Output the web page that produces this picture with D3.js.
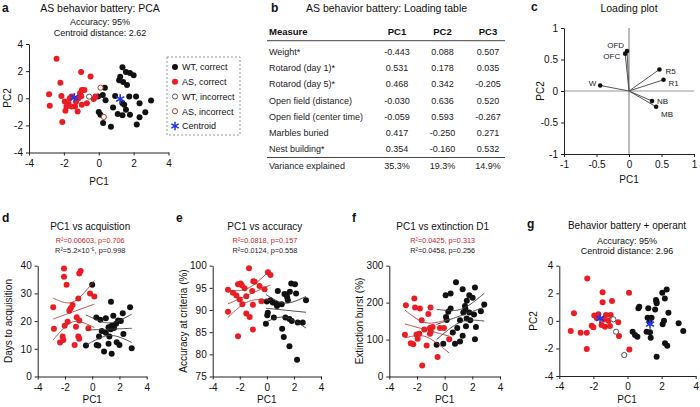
<!DOCTYPE html>
<html><head><meta charset="utf-8">
<script src="https://cdn.jsdelivr.net/npm/d3@7"></script>
<style>
body{margin:0;background:#fff}
svg{font-family:"Liberation Sans",Arial,Helvetica,sans-serif}
</style></head><body>
<svg id="chart" width="700" height="407"></svg>
<script>
// ---------- DATA ----------
// Panel a: PCA scores (PC1, PC2)
const aWTcorrect = [[1.36,2.28],[1.56,1.94],[1.79,1.87],[2.0,1.7],[1.23,1.58],[1.17,1.33],[1.4,1.2],[1.62,0.97],[0.35,0.78],[-0.04,0.12],[0.23,0.24],[0.39,-0.15],[0.94,0.17],[1.75,0.12],[2.14,0.12],[2.34,-0.36],[3.0,-0.17],[1.36,-0.36],[1.46,-0.48],[0.82,-0.68],[1.56,-0.85],[1.09,-1.16],[1.36,-1.26],[0,-1.02],[0.1,-1.21],[0.25,-1.82],[0.70,-2.11],[2.67,-1.04],[2.34,-1.41],[2.18,-1.94],[1.79,-1.21]];
const aAScorrect = [[-2.42,2.91],[-1.01,1.94],[-0.47,1.6],[-2.20,1.14],[-2.85,0.29],[-2.81,-0.56],[-2.14,0.17],[-1.95,-0.24],[-1.85,-0.6],[-1.91,-0.92],[-2.09,-1.75],[-1.66,0],[-1.56,0.12],[-1.07,0.36],[-0.97,0.6],[-0.82,0.6],[-1.17,0],[-1.36,-0.6],[-1.21,-0.97],[-1.56,-0.6],[-1.75,-0.36],[-0.97,-0.48],[-0.19,0.12],[-0.29,-0.05],[-0.68,-0.36],[-1.3,-0.25],[-1.0,0.15]];
const aWTincorrect = [[-0.55,0.12]];
const aASincorrect = [[0.1,0.78],[0.29,-1.38]];
const aCentroids = [[-1.4,0.05],[1.23,-0.05]];
const aSubtitle = ["Accuracy: 95%","Centroid distance: 2.62"];
const legendLabels = ["WT, correct","AS, correct","WT, incorrect","AS, incorrect","Centroid"];

// Panel b / c: loading table
const measures = ["Weight*","Rotarod (day 1)*","Rotarod (day 5)*","Open field (distance)","Open field (center time)","Marbles buried","Nest building*"];
const pc1 = [-0.443,0.531,0.468,-0.030,-0.059,0.417,0.354];
const pc2 = [0.088,0.178,0.342,0.636,0.593,-0.250,-0.160];
const pc3 = [0.507,0.035,-0.205,0.520,-0.267,0.271,0.532];
const varExplained = ["35.3%","19.3%","14.9%"];
const loadingLabels = ["W","R1","R5","OFD","OFC","MB","NB"];

// Panel d: PC1 vs days to acquisition
const dAS = [[-2.07,39.0],[-0.85,38.1],[-0.95,37.2],[-2.07,36.0],[-1.88,33.1],[-2.86,25.0],[-1.02,28.2],[-0.16,30.0],[0.16,28.9],[-1.44,25.8],[-1.58,24.6],[-1.68,23.7],[-1.80,19.8],[-1.14,21.4],[-0.95,20.2],[-2.02,18.3],[-2.81,17.2],[-1.19,18.0],[-0.28,17.4],[-2.17,14.4],[-2.12,13.2],[-2.36,12.3],[-1.02,14.4],[-0.95,13.6],[-1.29,11.4]];
const dWT = [[0,33.1],[1.38,27.0],[0.30,21.3],[0.6,20.5],[1.55,21.9],[2.78,25.0],[2.24,22.8],[1.9,20.2],[1.75,19.0],[1.43,18.3],[1.2,17.8],[1.6,17.5],[1.36,17.1],[0.70,16.4],[1.0,15.8],[0.5,14.4],[1.26,14.4],[1.8,12.4],[2.0,11.4],[2.29,15.3],[-0.46,11.2],[0.33,11.4],[0.45,11.2],[1.2,11.8],[0.87,9.0],[1.43,8.2],[2.90,10.2],[2.1,20.0],[1.0,21.0]];
const dStats = ["R\u00b2=0.00603, p=0.706","R\u00b2=5.2\u00d710\u207b\u2075, p=0.998"];

// Panel e: PC1 vs accuracy at criteria
const eAS = [[-1.32,99.4],[-2.87,94.6],[-2.50,93.9],[-2.13,95.8],[-1.94,96.0],[-1.85,95.6],[-1.64,94.9],[-2.25,93.3],[-2.0,92.4],[-1.81,91.3],[-1.52,93.1],[-1.08,94.3],[-1.0,96.5],[-0.9,96.4],[-0.54,95.4],[-0.17,94.7],[0.08,98.5],[0.27,97.9],[-1.03,91.2],[-2.87,89.6],[-1.52,89.2],[-1.27,88.4],[-1.03,85.6],[-2.13,84.1],[-0.4,92.0]];
const eWT = [[0.81,94.3],[1.3,93.6],[1.45,93.5],[1.5,92.9],[1.7,94.1],[1.80,96.0],[2.08,95.8],[2.16,93.7],[2.89,92.2],[1.55,92.2],[0.27,92.2],[0.44,91.7],[0.0,91.9],[0.69,91.4],[1.1,91.3],[0.75,90.9],[0.07,89.4],[0.03,88.8],[0.52,88.3],[1.37,88.3],[1.67,88.0],[1.84,87.5],[2.28,87.2],[2.65,87.2],[-0.07,86.9],[1.13,85.8],[1.25,83.9],[1.67,81.8],[2.23,78.8]];
const eStats = ["R\u00b2=0.0818, p=0.157","R\u00b2=0.0124, p=0.558"];

// Panel f: PC1 vs extinction burst
const fAS = [[-2.19,211],[-2.80,193],[-2.14,187],[-1.79,184],[-1.02,187],[-1.18,169],[-1.66,152],[-1.47,127],[-1.06,131],[-0.87,134],[-0.34,131],[-2.87,113],[-2.03,114],[-1.83,116],[-1.95,102],[-2.27,87],[-2.45,90],[-1.30,84],[-1.06,116],[-1.0,122],[-0.05,131],[0.33,101],[-0.51,53],[-1.62,30]];
const fWT = [[0.82,255],[0.07,220],[0.43,225],[1.30,236],[2.19,241],[1.78,220],[2.02,213],[1.6,205],[1.47,191],[1.5,183],[0.43,184],[0.26,175],[0.10,161],[0.15,153],[1.11,152],[1.35,173],[1.78,173],[2.12,168],[2.62,177],[2.86,195],[1.59,157],[1.85,152],[2.26,134],[1.54,136],[0.91,131],[0.59,119],[1.30,110],[2.19,101],[1.11,95],[0.75,89],[-0.58,86],[-0.10,89]];
const fStats = ["R\u00b2=0.0425, p=0.313","R\u00b2=0.0458, p=0.256"];

// Panel g: behavior battery + operant PCA
const gWTcorrect = [[2.30,2.28],[2.04,2.04],[2.19,1.63],[1.67,1.51],[1.71,1.27],[0.69,1.03],[0.64,0.91],[1.22,0.91],[1.62,0.83],[1.18,0.23],[1.41,0.23],[2.40,0.59],[2.14,0.01],[2.06,-0.25],[1.3,-0.1],[3.0,-0.18],[3.27,-0.74],[0.30,-0.79],[0.44,-1.03],[0.58,-1.15],[1.12,-0.79],[1.32,-0.83],[1.36,-1.22],[2.20,-1.63],[2.33,-1.80],[1.71,-2.6],[1.7,1.4]];
const gAScorrect = [[-2.36,3.08],[-1.46,2.07],[-1.46,1.34],[-0.91,1.44],[0.09,2.04],[-3.14,0.55],[-1.95,0.38],[-1.71,0.47],[-1.26,0.42],[-0.99,0.42],[-1.12,0],[-1.4,0.1],[-2.10,-0.35],[-2.0,-0.47],[-1.52,-0.30],[-1.32,-0.42],[-1.03,-0.37],[-0.54,-0.11],[-3.33,-0.74],[-2.75,-0.86],[-2.39,-0.86],[-0.50,-1.1],[-2.39,-2.04],[0.11,-2.07],[-1.8,0.2]];
const gWTincorrect = [[-0.83,0.11],[-0.67,-0.79],[-0.19,-2.48]];
const gCentroids = [[-1.61,0.18],[1.32,-0.23]];
const gSubtitle = ["Accuracy: 95%","Centroid distance: 2.96"];

const pcTicks = [-4,-2,0,2,4];

// ---------- DRAWING ----------
const svg = d3.select("#chart");
const RED = "#ec1c24", BLACK = "#111", BLUE = "#2336e6", REDFIT = "#b23a3a", BLKFIT = "#3a3a3a";
const fmt = d => String(d);

function text(g, x, y, s, o = {}) {
  return g.append("text").attr("x", x).attr("y", y).text(s)
    .attr("font-size", o.size || 10).attr("text-anchor", o.anchor || "start")
    .attr("font-weight", o.weight || "normal").attr("fill", o.fill || "#111");
}

function drawAxes(x, y, xt, yt, xf, yf) {
  const g = svg.append("g");
  const gx = g.append("g").attr("transform", `translate(0,${y.range()[0]})`)
    .call(d3.axisBottom(x).tickValues(xt).tickSize(3).tickSizeOuter(0).tickPadding(4).tickFormat(xf || fmt));
  const gy = g.append("g").attr("transform", `translate(${x.range()[0]},0)`)
    .call(d3.axisLeft(y).tickValues(yt).tickSize(3).tickSizeOuter(0).tickPadding(3).tickFormat(yf || fmt));
  [gx, gy].forEach(a => {
    a.select(".domain").attr("stroke", "#222").attr("stroke-width", 1);
    a.selectAll(".tick line").attr("stroke", "#222");
    a.selectAll(".tick text").attr("font-size", 10).attr("fill", "#111")
      .attr("font-family", '"Liberation Sans",Arial,sans-serif');
  });
  return g;
}

function dots(x, y, pts, fill, stroke, r = 3) {
  svg.append("g").selectAll("circle").data(pts).join("circle")
    .attr("cx", d => x(d[0])).attr("cy", d => y(d[1])).attr("r", r)
    .attr("fill", fill).attr("stroke", stroke || "none").attr("stroke-width", 1);
}

function centroids(x, y, pts) {
  svg.append("g").selectAll("path").data(pts).join("path")
    .attr("transform", d => `translate(${x(d[0])},${y(d[1])})`)
    .attr("d", d3.symbol(d3.symbolAsterisk, 60)())
    .attr("stroke", BLUE).attr("stroke-width", 1.6).attr("fill", "none");
}

// linear regression with 95% confidence band computed from the points
function regression(x, y, pts, color) {
  const n = pts.length;
  const mx = d3.mean(pts, d => d[0]), my = d3.mean(pts, d => d[1]);
  const sxx = d3.sum(pts, d => (d[0] - mx) ** 2);
  const sxy = d3.sum(pts, d => (d[0] - mx) * (d[1] - my));
  const b = sxy / sxx, a = my - b * mx;
  const s = Math.sqrt(d3.sum(pts, d => (d[1] - a - b * d[0]) ** 2) / (n - 2));
  const t = 2.06;
  const [x0, x1] = d3.extent(pts, d => d[0]);
  const xs = d3.range(0, 41).map(i => x0 + (x1 - x0) * i / 40);
  const half = v => t * s * Math.sqrt(1 / n + (v - mx) ** 2 / sxx);
  const line = d3.line().x(d => x(d[0])).y(d => y(d[1]));
  const g = svg.append("g").attr("fill", "none").attr("stroke", color).attr("stroke-width", 0.9);
  g.append("path").attr("d", line(xs.map(v => [v, a + b * v])));
  g.append("path").attr("d", line(xs.map(v => [v, a + b * v + half(v)])));
  g.append("path").attr("d", line(xs.map(v => [v, a + b * v - half(v)])));
}

function yLabel(cx, cy, s) {
  svg.append("text").attr("transform", `translate(${cx},${cy}) rotate(-90)`)
    .attr("text-anchor", "middle").attr("font-size", 10).attr("fill", "#111").text(s);
}

// ----- Panel a -----
{
  const x = d3.scaleLinear().domain([-4, 4]).range([29, 168.5]);
  const y = d3.scaleLinear().domain([-4, 4]).range([152.5, 44]);
  drawAxes(x, y, pcTicks, pcTicks);
  text(svg, 2, 12, "a", { size: 12, weight: "bold" });
  text(svg, 100, 12, "AS behavior battery: PCA", { size: 10.5, anchor: "middle" });
  text(svg, 100, 25, aSubtitle[0], { size: 9, anchor: "middle" });
  text(svg, 100, 36, aSubtitle[1], { size: 9, anchor: "middle" });
  text(svg, 99, 185, "PC1", { size: 10, anchor: "middle" });
  yLabel(11, 98, "PC2");
  dots(x, y, aWTcorrect, BLACK);
  dots(x, y, aAScorrect, RED);
  dots(x, y, aWTincorrect, "#fff", "#555", 2.6);
  dots(x, y, aASincorrect, "#fff", "#c0392b", 2.6);
  centroids(x, y, aCentroids);
  // legend
  const lg = svg.append("g");
  lg.append("rect").attr("x", 167).attr("y", 57).attr("width", 73).attr("height", 78)
    .attr("fill", "none").attr("stroke", "#999").attr("stroke-dasharray", "2,2");
  const ly = d3.scalePoint().domain(legendLabels).range([67, 126]);
  const styles = [[BLACK, "none"], [RED, "none"], ["#fff", "#555"], ["#fff", "#c0392b"]];
  legendLabels.forEach((l, i) => {
    if (i < 4) {
      lg.append("circle").attr("cx", 175).attr("cy", ly(l)).attr("r", i < 2 ? 3 : 2.6)
        .attr("fill", styles[i][0]).attr("stroke", styles[i][1]);
    } else {
      lg.append("path").attr("transform", `translate(175,${ly(l)})`)
        .attr("d", d3.symbol(d3.symbolAsterisk, 50)()).attr("stroke", BLUE).attr("stroke-width", 1.5);
    }
    text(lg, 182, ly(l) + 3.3, l, { size: 9 });
  });
}

// ----- Panel b -----
{
  const g = svg.append("g");
  text(g, 271, 12, "b", { size: 12, weight: "bold" });
  text(g, 306, 12, "AS behavior battery: Loading table", { size: 10.5 });
  const cols = d3.scalePoint().domain(["PC1", "PC2", "PC3"]).range([397, 488]);
  const rows = d3.scaleLinear().domain([0, 6]).range([55, 152]);
  text(g, 269, 35, "Measure", { size: 9.5, weight: "bold" });
  cols.domain().forEach(c => text(g, cols(c), 35, c, { size: 9.5, weight: "bold", anchor: "middle" }));
  g.append("line").attr("x1", 267).attr("x2", 505).attr("y1", 40.7).attr("y2", 40.7).attr("stroke", "#444");
  g.append("line").attr("x1", 267).attr("x2", 505).attr("y1", 157.5).attr("y2", 157.5).attr("stroke", "#444");
  measures.forEach((m, i) => {
    text(g, 269, rows(i), m, { size: 9, fill: "#222" });
    [pc1, pc2, pc3].forEach((arr, j) =>
      text(g, cols(cols.domain()[j]), rows(i), arr[i].toFixed(3), { size: 9, anchor: "middle", fill: "#222" }));
  });
  text(g, 269, 169, "Variance explained", { size: 9, fill: "#222" });
  varExplained.forEach((v, j) => text(g, cols(cols.domain()[j]), 169, v, { size: 9, anchor: "middle", fill: "#222" }));
}

// ----- Panel c -----
{
  const x = d3.scaleLinear().domain([-1, 1]).range([564, 694]);
  const y = d3.scaleLinear().domain([-1, 1]).range([154, 28]);
  const t = [-1, -0.5, 0, 0.5, 1];
  svg.append("line").attr("x1", x(0)).attr("x2", x(0)).attr("y1", y(-1)).attr("y2", y(1))
    .attr("stroke", "#bbb").attr("stroke-width", 2);
  svg.append("line").attr("x1", x(-1)).attr("x2", x(1)).attr("y1", y(0)).attr("y2", y(0))
    .attr("stroke", "#999").attr("stroke-width", 1);
  drawAxes(x, y, t, t);
  text(svg, 531, 11, "c", { size: 12, weight: "bold" });
  text(svg, 629, 12, "Loading plot", { size: 10.5, anchor: "middle" });
  text(svg, 629, 183, "PC1", { size: 10, anchor: "middle" });
  yLabel(544, 91, "PC2");
  const lab = { W: ["end", -4, -2], R1: ["start", 5, 3], R5: ["start", 6, 2], OFD: ["end", -3, -6], OFC: ["end", -5, 2], MB: ["start", 5, 7], NB: ["start", 5, 0] };
  const g = svg.append("g");
  pc1.forEach((v, i) => {
    g.append("line").attr("x1", x(0)).attr("y1", y(0)).attr("x2", x(v)).attr("y2", y(pc2[i]))
      .attr("stroke", "#555").attr("stroke-width", 1);
    g.append("circle").attr("cx", x(v)).attr("cy", y(pc2[i])).attr("r", 2.3).attr("fill", BLACK);
    const L = lab[loadingLabels[i]];
    text(g, x(v) + L[1], y(pc2[i]) + L[2] + 3, loadingLabels[i], { size: 8, anchor: L[0], fill: "#222" });
  });
}

// ----- Panels d, e, f -----
function regPanel(letter, lx, title, stats, xr, ydom, yt, asPts, wtPts, ylab, ylx) {
  const x = d3.scaleLinear().domain([-4, 4]).range(xr);
  const y = d3.scaleLinear().domain(ydom).range([376.5, 265.7]);
  drawAxes(x, y, pcTicks, yt);
  const cx = (xr[0] + xr[1]) / 2;
  text(svg, lx, 222, letter, { size: 12, weight: "bold" });
  text(svg, cx - 2, 230, title, { size: 10, anchor: "middle" });
  text(svg, cx - 2, 243, stats[0], { size: 7.3, anchor: "middle", fill: "#d0202a" });
  text(svg, cx - 2, 253, stats[1], { size: 7.3, anchor: "middle", fill: "#222" });
  text(svg, cx, 403, "PC1", { size: 10, anchor: "middle" });
  yLabel(ylx, 321, ylab);
  dots(x, y, asPts, RED);
  dots(x, y, wtPts, BLACK);
  regression(x, y, asPts, REDFIT);
  regression(x, y, wtPts, BLKFIT);
}
regPanel("d", 2, "PC1 vs acquistion", dStats, [37.7, 146.7], [0, 40], [0, 10, 20, 30, 40], dAS, dWT, "Days to acquisition", 12);
regPanel("e", 176, "PC1 vs accuracy", eStats, [212.7, 321], [75, 100], [75, 80, 85, 90, 95, 100], eAS, eWT, "Accuracy at criteria (%)", 187);
regPanel("f", 352, "PC1 vs extinction D1", fStats, [389.3, 500], [0, 300], [0, 100, 200, 300], fAS, fWT, "Extinction burst (%)", 363);

// ----- Panel g -----
{
  const x = d3.scaleLinear().domain([-4, 4]).range([559.3, 695.7]);
  const y = d3.scaleLinear().domain([-4, 4]).range([376, 265.7]);
  drawAxes(x, y, pcTicks, pcTicks);
  text(svg, 527, 228, "g", { size: 12, weight: "bold" });
  text(svg, 627, 229, "Behavior battery + operant", { size: 10, anchor: "middle" });
  text(svg, 627, 244, gSubtitle[0], { size: 9, anchor: "middle" });
  text(svg, 627, 254, gSubtitle[1], { size: 9, anchor: "middle" });
  text(svg, 627, 403, "PC1", { size: 10, anchor: "middle" });
  yLabel(537, 321, "PC2");
  dots(x, y, gWTcorrect, BLACK);
  dots(x, y, gAScorrect, RED);
  dots(x, y, gWTincorrect, "#fff", "#555", 2.6);
  centroids(x, y, gCentroids);
}
</script>
</body></html>
